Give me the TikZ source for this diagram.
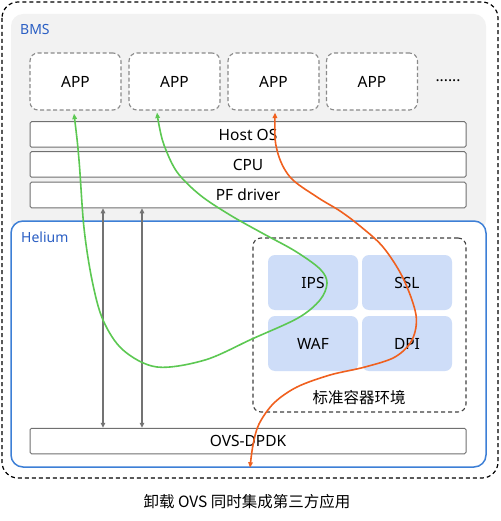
\documentclass[tikz,border=0pt]{standalone}
\usepackage{fontspec}
\setmainfont{Noto Sans}
\newfontfamily\cjk{Noto Sans CJK SC}
\usetikzlibrary{arrows.meta}
\definecolor{bmsblue}{HTML}{2B5FC4}
\definecolor{heblue}{HTML}{3D7FD6}
\definecolor{bggray}{HTML}{F2F2F2}
\definecolor{barline}{HTML}{707070}
\definecolor{appline}{HTML}{8A8A8A}
\definecolor{boxblue}{HTML}{CEDDF8}
\definecolor{grn}{HTML}{5CC852}
\definecolor{org}{HTML}{F0601E}
\definecolor{arrgray}{HTML}{737373}
\tikzset{
  appbox/.style={draw=appline, line width=1.1pt, dash pattern=on 4pt off 2.5pt, rounded corners=8pt, fill=white, minimum width=91pt, minimum height=57pt, inner sep=0pt, font=\fontsize{15.5}{18}\selectfont},
  bar/.style={draw=barline, line width=1pt, fill=white, rounded corners=1.5pt, minimum width=436pt, minimum height=25.5pt, inner sep=0pt, font=\fontsize{15.5}{18}\selectfont},
  fnbox/.style={fill=boxblue, rounded corners=7pt, minimum width=90pt, minimum height=55pt, inner sep=0pt, font=\fontsize{15.5}{18}\selectfont},
  lbl/.style={text=bmsblue, anchor=west, inner sep=0pt, font=\fontsize{14}{16}\selectfont},
  garrow/.style={draw=arrgray, line width=1.3pt, {Triangle[length=5pt,width=4.5pt]}-{Triangle[length=5pt,width=4.5pt]}},
  flow/.style={line width=1.6pt, {Triangle[length=5.5pt,width=4.5pt]}-{Triangle[length=5.5pt,width=4.5pt]}},
}
\begin{document}
\begin{tikzpicture}[x=1pt,y=-1pt]
\useasboundingbox (0,0) rectangle (500,521);
% outer dashed frame
\draw[line width=1.2pt, dash pattern=on 4pt off 3pt, rounded corners=16pt] (2,2) rectangle (498,478);
% BMS background
\fill[bggray, rounded corners=12pt] (11,14) rectangle (486,232);
\node[lbl] (bms) at (20,30) {BMS};
% Helium box
\node[draw=heblue, line width=1.5pt, fill=white, rounded corners=12pt, minimum width=475pt, minimum height=246pt, inner sep=0pt] (helium) at (248.5,344) {};
\node[lbl] (hel) at (21,237) {Helium};
% APPs
\node[appbox] (app1) at (75.5,81.5) {APP};
\node[appbox] (app2) at (174.5,81.5) {APP};
\node[appbox] (app3) at (273.5,81.5) {APP};
\node[appbox] (app4) at (372,81.5) {APP};
\node[font=\fontsize{15.5}{18}\selectfont, inner sep=0pt] (dots) at (448,81) {......};
% bars
\node[bar] (host) at (248,134.5) {Host OS};
\node[bar] (cpu) at (248,164.5) {CPU};
\node[bar] (pf) at (248,195) {PF driver};
\node[bar] (ovs) at (248,441) {OVS-DPDK};
% container
\node[draw=black!75, line width=1.1pt, dash pattern=on 4pt off 3pt, rounded corners=8pt, minimum width=213pt, minimum height=174pt, inner sep=0pt] (cont) at (359.5,325) {};
\node[fnbox] (ips) at (313,282.5) {IPS};
\node[fnbox] (ssl) at (407,282.5) {SSL};
\node[fnbox] (waf) at (313,343.5) {WAF};
\node[fnbox] (dpi) at (407,343.5) {DPI};
\node[font=\cjk\fontsize{15.5}{18}\selectfont, inner sep=0pt] (env) at (359,398) {标准容器环境};
% gray double arrows
\draw[garrow] ([xshift=-145pt]pf.south) -- ([xshift=-145pt]ovs.north);
\draw[garrow] ([xshift=-106pt]pf.south) -- ([xshift=-106pt]ovs.north);
% green flow
\draw[grn, flow] plot[smooth, tension=0.55] coordinates {
 ([shift={(-1.5pt,-3pt)}]app1.south) (79,160) (84,228) (92,280) (103,320) (123,350) (157,367) (205,360) (252,339) (298,318) (320,300) (327,283) (320,269) (295,251) (262,233) (230,215) (200,195) (177,172) (164,145) (159,125) ([shift={(-17.5pt,-2pt)}]app2.south)};
% orange flow
\draw[org, flow] plot[smooth, tension=0.55] coordinates {
 ([shift={(1.5pt,-2pt)}]app3.south) (277,150) (290,177) (317,197) (340,211) (360,226) (383,247) (403,278) (416,315) (412,340) (395,357) (365,367) (330,375) (297,387) (274,403) (259,424) (253,445) ([xshift=1.5pt]helium.south)};
% caption
\node[font=\cjk\fontsize{15.5}{18}\selectfont, inner sep=0pt] (cap) at (247,502) {卸载 OVS 同时集成第三方应用};
\end{tikzpicture}
\end{document}
